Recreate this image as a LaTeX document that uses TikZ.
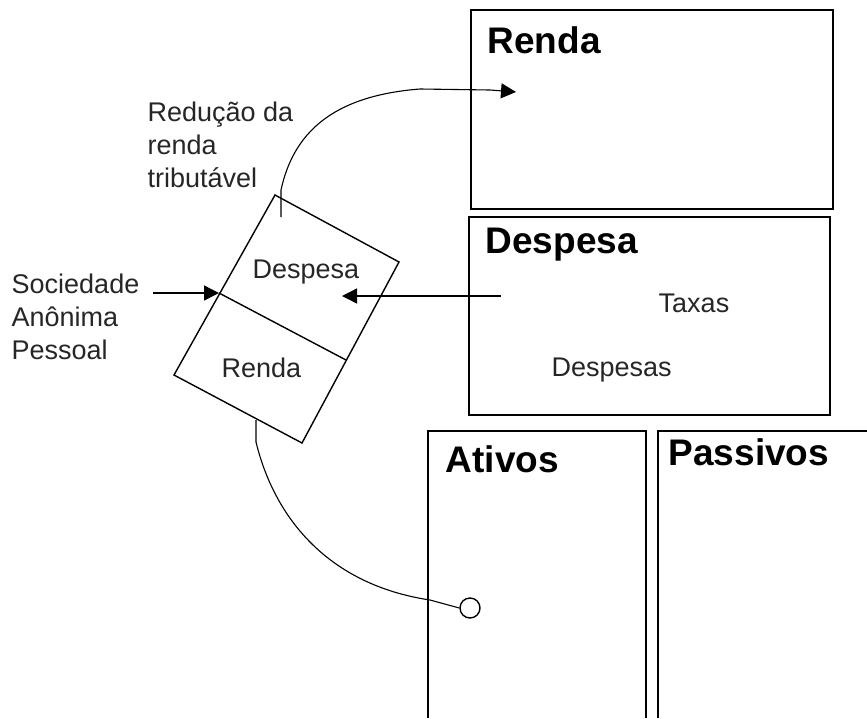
\documentclass[tikz,border=0pt]{standalone}
\usepackage{fontspec}
\setmainfont{Liberation Sans}
\usetikzlibrary{arrows.meta}

\begin{document}
\begin{tikzpicture}[x=1pt, y=-1pt, line width=1.4pt,
	conta/.style = {font=\fontsize{37}{44}\selectfont\bfseries, anchor=base west, inner sep=0pt},
	rotulo/.style = {font=\fontsize{27}{33}\selectfont, text=black!85, anchor=base west, inner sep=0pt},
	seta/.style = {-{Triangle[length=15pt, width=15pt]}}]
\useasboundingbox (0,0) rectangle (867,718);

% contas
\draw (471,10) rectangle (833,209);
\draw (469,217) rectangle (830,415);
\draw (428,718) -- (428,431) -- (646,431) -- (646,718);
\draw (658,718) -- (658,431) -- (867,431);

\node[conta] (renda) at (487,53) {Renda};
\node[conta] (despesa) at (485,253) {Despesa};
\node[conta] (ativos) at (445,472) {Ativos};
\node[conta] (passivos) at (668,465) {Passivos};
\node[rotulo] (taxas) at (658,312) {Taxas};
\node[rotulo] (despesas) at (551,376) {Despesas};

% caixa inclinada
\coordinate (a) at (275,195);
\coordinate (b) at (399,262);
\coordinate (c) at (302,443);
\coordinate (d) at (174,375);
\coordinate (m1) at (219,293);
\coordinate (m2) at (346,360);
\draw (a) -- (b) -- (c) -- (d) -- cycle;
\draw (m1) -- (m2);
\node[rotulo] (cxdespesa) at (252,278) {Despesa};
\node[rotulo] (cxrenda) at (221,377) {Renda};

% rotulos
\foreach \t [count=\i] in {Sociedade, Anônima, Pessoal}
	\node[rotulo] (soc\i) at (11,{293+33*(\i-1)}) {\t};
\foreach \t [count=\i] in {Redução da, renda, tributável}
	\node[rotulo] (red\i) at (147,{121+33*(\i-1)}) {\t};

% setas
\coordinate (socini) at (153,293);
\coordinate (taxini) at (501,296);
\coordinate (taxfim) at (342,296);
\coordinate (topo) at (281,217);
\coordinate (rendafim) at (516,92);
\coordinate (base) at (256,420);
\node[draw, circle, minimum size=20pt, inner sep=0pt] (ponto) at (470,608) {};

\draw[seta] (socini) -- (m1);
\draw[seta] (taxini) -- (taxfim);
\draw[seta, line width=1.1pt] (topo) -- (281,190) .. controls (293,135) and (330,96) .. (420,89) -- (490,90) -- (rendafim);
\draw[line width=1.1pt] (base) -- (256,442) .. controls (275,520) and (330,585) .. (430,600) -- (ponto.west);

\end{tikzpicture}
\end{document}
